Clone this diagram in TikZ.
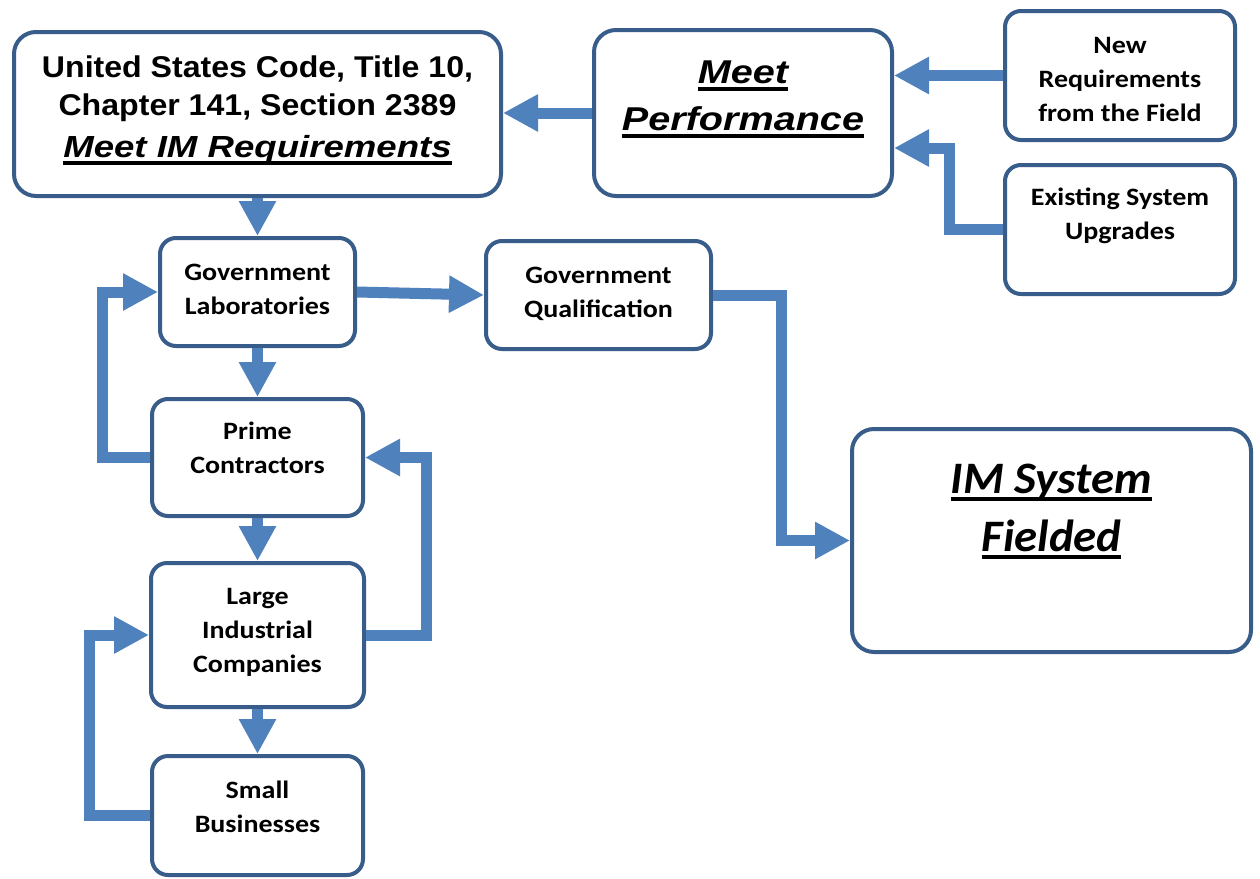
\documentclass[tikz,border=0pt]{standalone}
\usepackage{fontspec}
\usetikzlibrary{arrows.meta}
\newfontfamily\arialfont{Liberation Sans}[FakeStretch=1.07]
\newfontfamily\arialit{Liberation Sans}[FakeStretch=1.2]
\newfontfamily\calfont{Carlito}[FakeStretch=1.12]
\newfontfamily\calit{Carlito}[FakeStretch=1.04]
\definecolor{boxcol}{RGB}{56,93,138}
\definecolor{arrcol}{RGB}{79,129,189}
\newsavebox\ulbox
\newcommand\ulx[1]{\sbox\ulbox{#1}\rlap{\rule[-8pt]{\wd\ulbox}{4pt}}\usebox\ulbox}
\newcommand\lns[1]{\begin{tabular}[t]{@{}c@{}}#1\end{tabular}}
\begin{document}
\begin{tikzpicture}[x=1pt,y=-1pt,
  box/.style={draw=boxcol, line width=4pt, fill=white, rounded corners=16pt, inner sep=0pt},
  bigbox/.style={box, rounded corners=22pt},
  arr/.style={draw=arrcol, line width=11pt, -{Triangle[length=35pt,width=35pt]}},
  caltxt/.style={anchor=base, inner sep=0pt, font=\calfont\bfseries\fontsize{25}{34}\selectfont},
  arialtxt/.style={anchor=base, inner sep=0pt, font=\arialfont\bfseries\fontsize{30}{38}\selectfont},
  mptxt/.style={anchor=base, inner sep=0pt, font=\arialit\bfseries\itshape\fontsize{33}{47}\selectfont},
  imtxt/.style={anchor=base, inner sep=0pt, font=\calit\bfseries\itshape\fontsize{45}{58}\selectfont}
]
\useasboundingbox[fill=white] (0,0) rectangle (1260,878);
% boxes
\node[bigbox, minimum width=487pt, minimum height=164pt] (usc) at (257.5,114) {};
\node[bigbox, minimum width=298pt, minimum height=166pt] (mp) at (743,113) {};
\node[box, minimum width=230pt, minimum height=129pt] (newr) at (1120,75.5) {};
\node[box, minimum width=230pt, minimum height=129pt] (exist) at (1120,229.5) {};
\node[box, minimum width=195pt, minimum height=108pt] (gl) at (257.5,292) {};
\node[box, minimum width=225pt, minimum height=108pt] (gq) at (598.5,295) {};
\node[box, minimum width=211pt, minimum height=117pt] (prime) at (257.5,457.5) {};
\node[box, minimum width=213pt, minimum height=144pt] (large) at (257.5,635) {};
\node[box, minimum width=211pt, minimum height=119pt] (small) at (257.5,815.5) {};
\node[bigbox, minimum width=399pt, minimum height=223pt] (im) at (1051.5,540.5) {};
% texts
\node[arialtxt] (uscT) at (257.5,77) {\lns{United States Code, Title 10,\\Chapter 141, Section 2389\\[4pt]{\arialit\itshape\fontsize{30.5}{38}\selectfont\ulx{Meet IM Requirements}}}};
\node[mptxt] (mpT) at (743,83) {\lns{\ulx{Meet}\\\ulx{Performance}}};
\node[caltxt] (newT) at (1120,53) {\lns{New\\Requirements\\from the Field}};
\node[caltxt] (existT) at (1120,205) {\lns{Existing System\\Upgrades}};
\node[caltxt] (glT) at (257.5,280) {\lns{Government\\Laboratories}};
\node[caltxt] (gqT) at (598.5,283) {\lns{Government\\Qualification}};
\node[caltxt] (primeT) at (257.5,439) {\lns{Prime\\Contractors}};
\node[caltxt] (largeT) at (257.5,604) {\lns{Large\\Industrial\\Companies}};
\node[caltxt] (smallT) at (257.5,798) {\lns{Small\\Businesses}};
\node[imtxt] (imT) at (1051.5,493) {\lns{\ulx{IM System}\\\ulx{Fielded}}};
% connectors
\draw[arr] (newr.west) -- (newr.west -| mp.east);
\draw[arr] (exist.west) -- ++(-54,0) |- ([yshift=-35pt]mp.east);
\draw[arr] (mp.west) -- (mp.west -| usc.east);
\draw[arr] (usc.south) -- (gl.north);
\draw[arr] (gl.east) -- (gq.west);
\draw[arr] (gq.east) -- ++(68,0) |- (im.west);
\draw[arr] (gl.south) -- (prime.north);
\draw[arr] (prime.west) -- ++(-48,0) |- (gl.west);
\draw[arr] (prime.south) -- (large.north);
\draw[arr] (large.east) -- ++(60,0) |- (prime.east);
\draw[arr] (large.south) -- (small.north);
\draw[arr] (small.west) -- ++(-61,0) |- (large.west);
\end{tikzpicture}
\end{document}
